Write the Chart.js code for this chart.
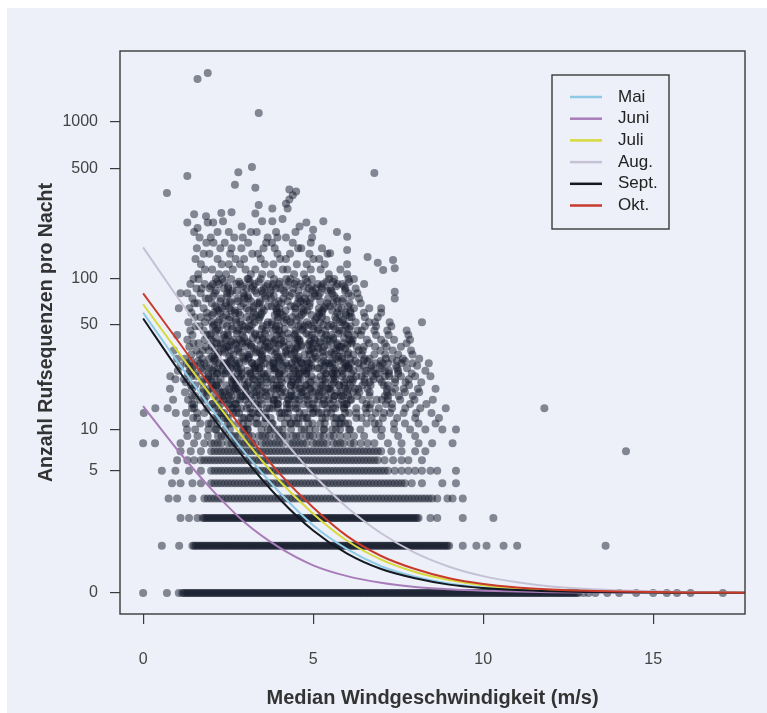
<!DOCTYPE html>
<html>
<head>
<meta charset="utf-8">
<script src="https://cdn.jsdelivr.net/npm/chart.js@4.4.0/dist/chart.umd.min.js"></script>
<style>
  html, body { margin: 0; padding: 0; background: #fff; }
</style>
</head>
<body>
<canvas id="myChart" width="767" height="713"></canvas>
<script>
// month curves (fitted calls per night), read at whole m/s steps
const curveX = [0,1,2,3,4,5,6,7,8,9,10,11,12,13,14,15,16,17,18];
const curveMai = [60,29,14,6.8,3.4,1.7,0.9,0.48,0.27,0.15,0.085,0.05,0.03,0.018,0.011,0.007,0.004,0.003,0.002];
const curveJuni = [14.5,7.2,3.6,1.8,0.95,0.5,0.28,0.16,0.09,0.055,0.033,0.02,0.012,0.008,0.005,0.003,0.002,0.001,0.001];
const curveJuli = [68,34,17,8.4,4.2,2.2,1.15,0.63,0.36,0.21,0.12,0.072,0.043,0.026,0.016,0.01,0.006,0.004,0.003];
const curveAug = [158,76,37,18,9.2,4.7,2.5,1.4,0.8,0.47,0.28,0.17,0.1,0.062,0.038,0.024,0.015,0.01,0.006];
const curveSept = [55,26,12.5,6.1,3.0,1.5,0.78,0.42,0.24,0.13,0.075,0.044,0.026,0.016,0.01,0.006,0.004,0.002,0.002];
const curveOkt = [80,40,19.5,9.6,4.8,2.5,1.3,0.72,0.42,0.24,0.14,0.085,0.052,0.032,0.02,0.013,0.008,0.005,0.003];

const monthNames = ["Mai", "Juni", "Juli", "Aug.", "Sept.", "Okt."];
const monthColors = ["#8ecae6", "#a77cb8", "#d6da3a", "#c6c2d6", "#141820", "#c83a2c"];

// nights with few calls (0..9): wind speeds per row
const rowCounts = [0,1,2,3,4,5,6,7,8,9];
const rowX0 = [0,0.7,1.05,
  1.15,1.2,1.25,1.3,1.35,1.4,1.45,1.5,1.55,1.6,1.65,1.7,1.75,1.8,1.85,1.9,1.95,
  2,2.05,2.1,2.15,2.2,2.25,2.3,2.35,2.4,2.45,2.5,2.55,2.6,2.65,2.7,2.75,2.8,2.85,2.9,2.95,
  3,3.05,3.1,3.15,3.2,3.25,3.3,3.35,3.4,3.45,3.5,3.55,3.6,3.65,3.7,3.75,3.8,3.85,3.9,3.95,
  4,4.05,4.1,4.15,4.2,4.25,4.3,4.35,4.4,4.45,4.5,4.55,4.6,4.65,4.7,4.75,4.8,4.85,4.9,4.95,
  5,5.05,5.1,5.15,5.2,5.25,5.3,5.35,5.4,5.45,5.5,5.55,5.6,5.65,5.7,5.75,5.8,5.85,5.9,5.95,
  6,6.05,6.1,6.15,6.2,6.25,6.3,6.35,6.4,6.45,6.5,6.55,6.6,6.65,6.7,6.75,6.8,6.85,6.9,6.95,
  7,7.05,7.1,7.15,7.2,7.25,7.3,7.35,7.4,7.45,7.5,7.55,7.6,7.65,7.7,7.75,7.8,7.85,7.9,7.95,
  8,8.05,8.1,8.15,8.2,8.25,8.3,8.35,8.4,8.45,8.5,8.55,8.6,8.65,8.7,8.75,8.8,8.85,8.9,8.95,
  9,9.05,9.1,9.15,9.2,9.25,9.3,9.35,9.4,9.45,9.5,9.55,9.6,9.65,9.7,9.75,9.8,9.85,9.9,9.95,
  10,10.05,10.1,10.15,10.2,10.25,10.3,10.35,10.4,10.45,10.5,10.55,10.6,10.65,10.7,10.75,10.8,10.85,10.9,10.95,
  11,11.05,11.1,11.15,11.2,11.25,11.3,11.35,11.4,11.45,11.5,11.55,11.6,11.65,11.7,11.75,11.8,11.85,11.9,11.95,
  12,12.05,12.1,12.15,12.2,12.25,12.3,12.35,12.4,12.45,12.5,12.55,12.6,12.65,12.7,12.75,12.8,
  12.95,13.1,13.3,13.65,14,14.5,15,15.4,15.7,16.1,17.05];
const rowX1 = [0.55,1.06,
  1.45,1.5,1.55,1.6,1.65,1.7,1.75,1.8,1.85,1.9,1.95,
  2,2.05,2.1,2.15,2.2,2.25,2.3,2.35,2.4,2.45,2.5,2.55,2.6,2.65,2.7,2.75,2.8,2.85,2.9,2.95,
  3,3.05,3.1,3.15,3.2,3.25,3.3,3.35,3.4,3.45,3.5,3.55,3.6,3.65,3.7,3.75,3.8,3.85,3.9,3.95,
  4,4.05,4.1,4.15,4.2,4.25,4.3,4.35,4.4,4.45,4.5,4.55,4.6,4.65,4.7,4.75,4.8,4.85,4.9,4.95,
  5,5.05,5.1,5.15,5.2,5.25,5.3,5.35,5.4,5.45,5.5,5.55,5.6,5.65,5.7,5.75,5.8,5.85,5.9,5.95,
  6,6.05,6.1,6.15,6.2,6.25,6.3,6.35,6.4,6.45,6.5,6.55,6.6,6.65,6.7,6.75,6.8,6.85,6.9,6.95,
  7,7.05,7.1,7.15,7.2,7.25,7.3,7.35,7.4,7.45,7.5,7.55,7.6,7.65,7.7,7.75,7.8,7.85,7.9,7.95,
  8,8.05,8.1,8.15,8.2,8.25,8.3,8.35,8.4,8.45,8.5,8.55,8.6,8.65,8.7,8.75,8.8,8.85,8.9,8.95,9,
  9.4,9.8,10.1,10.6,11,13.6];
const rowX2 = [1.1,1.35,1.6,1.75,1.8,1.85,1.9,1.95,
  2,2.05,2.1,2.15,2.2,2.25,2.3,2.35,2.4,2.45,2.5,2.55,2.6,2.65,2.7,2.75,2.8,2.85,2.9,2.95,
  3,3.05,3.1,3.15,3.2,3.25,3.3,3.35,3.4,3.45,3.5,3.55,3.6,3.65,3.7,3.75,3.8,3.85,3.9,3.95,
  4,4.05,4.1,4.15,4.2,4.25,4.3,4.35,4.4,4.45,4.5,4.55,4.6,4.65,4.7,4.75,4.8,4.85,4.9,4.95,
  5,5.05,5.1,5.15,5.2,5.25,5.3,5.35,5.4,5.45,5.5,5.55,5.6,5.65,5.7,5.75,5.8,5.85,5.9,5.95,
  6,6.05,6.1,6.15,6.2,6.25,6.3,6.35,6.4,6.45,6.5,6.55,6.6,6.65,6.7,6.75,6.8,6.85,6.9,6.95,
  7,7.05,7.1,7.15,7.2,7.25,7.3,7.35,7.4,7.45,7.5,7.55,7.6,7.65,7.7,7.75,7.8,7.85,7.9,7.95,
  8,8.05,8.1,8.45,8.65,9.4,10.3];
const rowX3 = [0.75,1,1.45,1.8,1.9,
  2,2.1,2.2,2.3,2.4,2.5,2.6,2.7,2.8,2.9,3,3.1,3.2,3.3,3.4,3.5,3.6,3.7,3.8,3.9,
  4,4.1,4.2,4.3,4.4,4.5,4.6,4.7,4.8,4.9,5,5.1,5.2,5.3,5.4,5.5,5.6,5.7,5.8,5.9,
  6,6.1,6.2,6.3,6.4,6.5,6.6,6.7,6.8,6.9,7,7.1,7.2,7.3,7.4,7.5,7.6,7.7,7.8,7.9,
  8,8.1,8.2,8.3,8.4,8.5,8.65,8.95,9.1,9.4];
const rowX4 = [0.85,1.1,1.45,1.7,
  2,2.1,2.2,2.3,2.4,2.5,2.6,2.7,2.8,2.9,3,3.1,3.2,3.3,3.4,3.5,3.6,3.7,3.8,3.9,
  4,4.1,4.2,4.3,4.4,4.5,4.6,4.7,4.8,4.9,5,5.1,5.2,5.3,5.4,5.5,5.6,5.7,5.8,5.9,
  6,6.1,6.2,6.3,6.4,6.5,6.6,6.7,6.8,6.9,7,7.1,7.2,7.3,7.4,7.5,7.6,7.7,
  7.9,8.2,8.8,9.2];
const rowX5 = [0.55,0.95,1.35,1.7,
  2,2.1,2.2,2.3,2.4,2.5,2.6,2.7,2.8,2.9,3,3.1,3.2,3.3,3.4,3.5,3.6,3.7,3.8,3.9,
  4,4.1,4.2,4.3,4.4,4.5,4.6,4.7,4.8,4.9,5,5.1,5.2,5.3,5.4,5.5,5.6,5.7,5.8,5.9,
  6,6.1,6.2,6.3,6.4,6.5,6.6,6.7,6.8,6.9,7,7.1,7.2,
  7.4,7.6,7.8,8,8.2,8.45,8.65,9.2];
const rowX6 = [1,1.3,1.5,1.7,1.8,1.9,
  2,2.1,2.2,2.3,2.4,2.5,2.6,2.7,2.8,2.9,3,3.1,3.2,3.3,3.4,3.5,3.6,3.7,3.8,3.9,
  4,4.1,4.2,4.3,4.4,4.5,4.6,4.7,4.8,4.9,5,5.1,5.2,5.3,5.4,5.5,5.6,5.7,5.8,5.9,
  6,6.1,6.2,6.3,6.4,6.5,6.6,6.7,6.8,6.9,
  7.1,7.35,7.6,7.8,8.2];
const rowX7 = [1.1,1.4,1.7,
  2,2.1,2.2,2.3,2.4,2.5,2.6,2.7,2.8,2.9,3,3.1,3.2,3.3,3.4,3.5,3.6,3.7,3.8,3.9,
  4,4.1,4.2,4.3,4.4,4.5,4.6,4.7,4.8,4.9,5,5.1,5.2,5.3,5.4,5.5,5.6,5.7,5.8,5.9,
  6,6.1,6.2,6.3,6.4,6.5,6.6,6.7,6.8,6.9,7,
  7.3,7.6,8,8.3];
const rowX8 = [0,0.35,1.1,1.5,1.8,
  2,2.1,2.2,2.3,2.5,2.6,2.7,2.8,2.9,3,3.1,3.2,3.3,3.5,3.6,3.7,3.8,3.9,4,4.1,
  4.3,4.4,4.5,4.6,4.7,4.8,5,5.1,5.2,5.3,5.4,5.6,5.7,5.8,5.9,6.1,6.2,6.4,6.6,6.8,
  7.2,7.6,8.1,8.5,9.1];
const rowX9 = [1.3,1.6,1.9,2.2,2.3,2.4,2.6,2.7,2.8,3,3.1,3.2,3.4,3.5,3.6,3.7,3.9,
  4,4.1,4.2,4.4,4.5,4.6,4.8,4.9,5,5.2,5.3,5.5,5.6,5.8,6,6.2,6.5,
  7,7.5,8];
const rowXs = [rowX0,rowX1,rowX2,rowX3,rowX4,rowX5,rowX6,rowX7,rowX8,rowX9];

// busier nights (10 calls and more): wind speeds per call count
const cloudCounts = [10,11,12,13,14,15,16,17,18,19,20,21,22,23,24,25,26,27,28,29,30,
  32,34,36,38,40,43,46,49,52,56,60,
  64,69,74,80,86,92,99,
  106,114,123,133,144,156,169,183,198];
const cloudX = [
  [1.29,1.53,1.92,2.13,2.55,2.97,3.06,3.48,3.75,3.99,4.35,4.74,5.07,5.31,5.67,5.79,6.06,6.39,6.84,7.02,7.38,7.85,8.3,8.8,9.2],
  [1.26,1.68,1.92,2.19,2.49,2.94,3.09,3.36,3.81,4.17,4.35,4.5,4.86,5.34,5.64,5.82,6.03,6.57,6.81,6.93,7.38,7.7,8.1,8.6],
  [1.47,1.59,2.07,2.37,2.49,2.91,3.15,3.33,3.6,4.05,4.44,4.56,4.8,5.37,5.61,5.82,6.27,6.42,6.72,7.05,7.47,8.0,8.7],
  [0.02,0.96,1.26,1.59,1.8,2.31,2.64,2.73,3.18,3.42,3.6,4.08,4.26,4.74,4.98,5.16,5.4,5.94,6.27,6.57,6.84,7.08,7.26,7.66,8.03,8.48],
  [0.36,0.72,1.44,1.5,1.89,2.22,2.64,2.76,3.15,3.39,3.72,3.96,4.23,4.53,5.01,5.1,5.58,5.91,6.27,6.54,6.66,6.93,7.32,7.71,8.15,8.9],
  [1.44,1.5,2.04,2.28,2.55,2.73,3.09,3.36,3.84,3.96,4.29,4.5,4.98,5.28,5.52,5.91,6.0,6.57,6.69,7.14,7.32,7.85,8.33],
  [0.88,1.32,1.68,1.8,2.37,2.55,2.85,3.0,3.45,3.84,3.96,4.26,4.59,4.83,5.31,5.46,5.85,6.09,6.45,6.87,7.02,7.2,7.56,7.98,8.52],
  [1.44,1.53,1.86,2.34,2.52,2.94,3.03,3.33,3.63,4.11,4.32,4.65,4.8,5.16,5.64,5.82,6.03,6.3,6.66,7.11,7.2,7.52,7.93],
  [1.23,1.77,1.89,2.34,2.55,2.76,3.03,3.33,3.6,4.05,4.35,4.65,5.07,5.28,5.52,5.82,6.18,6.36,6.66,7.17,7.32,7.7,8.12],
  [0.79,1.44,1.77,1.95,2.22,2.67,2.79,3.0,3.39,3.84,3.93,4.47,4.68,4.92,5.22,5.46,5.94,6.24,6.33,6.6,7.17,7.41,7.66,8.08,8.6],
  [1.41,1.53,2.04,2.16,2.64,2.73,3.24,3.36,3.84,4.02,4.35,4.77,4.8,5.22,5.55,5.76,6.09,6.45,6.69,7.08,7.2,7.82],
  [1.26,1.74,2.01,2.22,2.61,2.73,3.09,3.45,3.66,4.08,4.38,4.56,4.92,5.37,5.61,5.91,6.15,6.51,6.66,7.02,7.41,7.72,8.18],
  [0.95,1.2,1.77,1.89,2.28,2.67,2.97,3.27,3.45,3.87,4.05,4.41,4.62,5.07,5.28,5.58,5.97,6.18,6.51,6.78,6.96,7.41,7.81],
  [0.8,1.41,1.56,1.92,2.1,2.61,2.88,3.18,3.39,3.6,3.99,4.35,4.59,4.95,5.22,5.61,5.85,6.27,6.42,6.75,7.11,7.23,7.58,8.0,8.45],
  [1.32,1.53,1.92,2.16,2.43,2.79,3.15,3.48,3.66,3.99,4.41,4.59,4.8,5.37,5.55,5.7,6.12,6.54,6.84,6.9,7.23,7.5,7.9],
  [1.02,1.38,1.74,2.04,2.31,2.46,2.82,3.06,3.3,3.87,4.08,4.47,4.74,4.8,5.31,5.64,5.85,6.18,6.57,6.78,7.11,7.23,7.5,8.3],
  [1.44,1.71,1.95,2.19,2.61,2.88,3.27,3.42,3.84,3.9,4.41,4.59,4.86,5.13,5.58,5.91,6.03,6.36,6.69,7.02,7.47,7.76],
  [1.1,1.35,1.5,1.86,2.34,2.49,2.73,3.27,3.48,3.72,4.11,4.26,4.5,4.95,5.34,5.49,5.97,6.03,6.48,6.72,6.96,7.44,8.06],
  [1.29,1.68,1.8,2.37,2.43,2.82,3.21,3.36,3.84,4.05,4.2,4.68,4.89,5.37,5.46,5.91,6.12,6.33,6.84,7.05,7.2,7.6,7.92,8.4],
  [1.41,1.62,2.07,2.13,2.58,2.76,3.0,3.45,3.84,3.99,4.47,4.62,4.83,5.31,5.55,5.76,6.24,6.48,6.6,6.99,7.47,7.7],
  [1.0,1.23,1.74,1.95,2.1,2.58,2.97,3.09,3.51,3.66,4.02,4.44,4.53,4.98,5.1,5.67,5.85,6.09,6.51,6.66,7.14,7.32,7.64,8.12],
  [1.42,1.66,2.11,2.2,2.65,3.07,3.13,3.49,3.88,4.24,4.36,4.75,4.9,5.47,5.62,6.01,6.19,6.43,6.8,7.12,7.5,7.92],
  [0.9,1.57,1.75,1.93,2.38,2.59,2.8,3.34,3.52,3.76,4.21,4.45,4.87,4.93,5.29,5.68,5.8,6.34,6.46,6.98,7.34,7.88],
  [1.36,1.84,2.02,2.47,2.53,3.01,3.19,3.58,3.7,4.15,4.54,4.66,5.11,5.32,5.77,5.83,6.28,6.49,6.82,7.16,7.58],
  [1.48,1.63,2.17,2.29,2.71,2.92,3.1,3.64,3.85,4.06,4.48,4.87,4.99,5.2,5.71,5.92,6.13,6.64,7.1,7.75],
  [1.3,1.81,1.99,2.44,2.65,2.83,3.37,3.52,3.88,4.06,4.54,4.6,5.05,5.41,5.59,6.07,6.16,6.58,7.0,7.38,7.85],
  [1.0,1.45,1.87,1.96,2.38,2.5,2.92,3.31,3.43,3.94,4.09,4.45,4.87,4.96,5.38,5.53,6.04,6.22,6.4,6.85,7.22,7.8],
  [1.39,1.78,2.14,2.23,2.77,2.95,3.16,3.61,3.82,4.0,4.48,4.69,5.14,5.35,5.77,5.86,6.31,6.43,6.8,7.18,7.75],
  [1.54,1.66,2.05,2.47,2.59,2.98,3.13,3.52,3.91,4.0,4.57,4.75,4.96,5.44,5.59,5.98,6.1,6.52,6.85,7.3],
  [1.33,1.81,2.02,2.2,2.74,2.86,3.28,3.67,3.79,4.15,4.33,4.81,5.02,5.2,5.77,5.86,6.25,6.64,6.82,7.25,8.2],
  [1.51,1.69,1.9,2.35,2.56,3.04,3.22,3.43,3.97,4.18,4.39,4.6,5.11,5.26,5.65,6.07,6.13,6.52,6.9],
  [1.42,1.87,2.08,2.26,2.71,2.8,3.25,3.49,3.94,4.03,4.48,4.72,5.17,5.26,5.71,5.95,6.1,6.49,7.0],
  [1.05,1.36,1.78,2.17,2.32,2.53,3.04,3.25,3.49,3.91,4.0,4.48,4.66,5.17,5.32,5.74,5.83,6.2,6.65,7.0],
  [1.51,1.6,2.02,2.44,2.59,2.95,3.37,3.43,3.88,4.06,4.54,4.72,4.9,5.41,5.59,6.07,6.4],
  [1.45,1.84,1.93,2.29,2.77,2.98,3.1,3.61,3.76,4.12,4.57,4.75,4.93,5.44,5.68,5.89,6.35,7.4],
  [1.1,1.3,1.69,2.11,2.47,2.56,2.95,3.34,3.52,3.73,4.18,4.39,4.81,5.05,5.2,5.56,6.04,6.3],
  [1.57,1.72,1.96,2.38,2.5,3.04,3.19,3.55,3.91,4.03,4.42,4.87,5.08,5.26,5.5,5.95,6.25],
  [1.39,1.81,2.05,2.23,2.74,2.86,3.28,3.67,3.82,4.0,4.45,4.63,5.14,5.29,5.71,5.86,6.5],
  [1.48,1.63,2.14,2.32,2.59,3.07,3.1,3.46,3.85,4.21,4.33,4.78,4.96,5.47,5.62,6.04,6.2],
  [1.62,2.23,2.44,3.17,3.5,3.75,4.44,4.73,5.46,6.0],
  [1.82,2.03,2.64,3.01,3.3,4.11,4.24,4.93,5.22,5.8],
  [1.7,2.31,2.52,2.85,3.58,3.83,4.52,4.81,5.34,6.0],
  [1.54,2.19,2.72,2.97,3.46,4.03,4.2,5.01,5.18],
  [1.78,1.95,2.56,3.21,3.38,3.95,4.32,4.89,5.42],
  [1.58,2.27,2.6,2.89,3.54,3.87,4.56,4.65,5.26],
  [1.86,2.07,2.4,3.09,3.62,3.79,4.4,4.93],
  [1.66,1.99,2.68,2.93,3.66,3.95,4.2,4.97],
  [1.5,2.19,2.52,3.17,3.34,3.91,4.48]
];

// more nights in the crowded core of the cloud
const coreCounts = [10,11,12,13,14,15,16,17,18,19,20,22,24,26,28,31,33,35,37,39,41,44,47,50,54,58,62,66,71,77,83,89,95];
const coreX = [
  [2.15,2.41,2.94,3.08,3.67,3.87,4.1,4.66,4.89,5.33,5.56,6.09],
  [2.0,2.56,2.79,3.32,3.55,3.78,4.34,4.57,4.98,5.21,5.77,5.94],
  [2.18,2.44,2.97,3.11,3.61,3.75,4.25,4.69,4.83,5.27,5.68,5.85],
  [2.24,2.38,2.82,3.23,3.4,4.02,4.16,4.6,5.01,5.24,5.53,6.06],
  [2.09,2.62,2.88,3.05,3.64,3.81,4.31,4.48,4.92,5.42,5.65,5.91],
  [2.03,2.5,2.7,3.29,3.49,3.96,4.22,4.72,4.86,5.33,5.74,5.97],
  [2.21,2.35,2.76,3.2,3.67,3.84,4.28,4.48,5.04,5.15,5.59,6.12],
  [2.12,2.59,2.88,3.14,3.43,3.9,4.37,4.45,4.86,5.36,5.62,5.88],
  [2.27,2.41,2.85,3.26,3.52,3.75,4.19,4.69,4.98,5.18,5.71,6.0],
  [2.06,2.53,2.73,3.17,3.61,3.99,4.1,4.6,4.89,5.42,5.5,6.03],
  [2.15,2.44,2.97,3.05,3.46,3.93,4.34,4.48,5.01,5.27,5.77,5.91],
  [2.0,2.62,2.82,3.23,3.64,3.78,4.25,4.54,4.86,5.36,5.65,6.09],
  [2.18,2.38,2.91,3.14,3.55,4.02,4.16,4.57,4.8,5.39,5.59,5.88],
  [2.09,2.56,2.76,3.29,3.4,3.87,4.28,4.72,4.95,5.18,5.68,6.06],
  [2.24,2.47,2.7,3.2,3.58,3.81,4.37,4.66,4.83,5.24,5.56,5.97],
  [2.03,2.53,2.94,3.11,3.49,3.96,4.1,4.57,5.07,5.3,5.74,5.85],
  [2.21,2.41,2.85,3.32,3.43,3.93,4.19,4.45,5.04,5.27,5.53,6.03],
  [2.12,2.35,2.79,3.26,3.67,3.9,4.34,4.51,4.98,5.15,5.62,5.94],
  [2.27,2.5,2.73,3.17,3.46,3.99,4.28,4.66,4.89,5.42,5.71,6.0],
  [2.06,2.59,2.88,3.05,3.61,3.84,4.13,4.6,4.92,5.21,5.5,6.12],
  [2.15,2.38,2.97,3.23,3.52,3.75,4.31,4.54,5.04,5.33,5.59,5.91],
  [2.0,2.47,2.76,3.29,3.58,4.02,4.25,4.48,4.8,5.24,5.74,6.0],
  [2.18,2.62,2.82,3.08,3.49,3.9,4.16,4.69,5.01,5.15,5.65,6.06],
  [2.09,2.35,2.91,3.2,3.64,3.78,4.37,4.63,4.86,5.3,5.53,5.94],
  [2.24,2.53,2.73,3.14,3.4,3.96,4.22,4.51,5.07,5.39,5.68,5.88],
  [2.03,2.44,2.85,3.32,3.46,3.87,4.1,4.66,4.95,5.18,5.77,5.97],
  [2.21,2.59,2.7,3.11,3.55,3.93,4.19,4.72,4.83,5.27,5.56,6.09],
  [2.12,2.41,2.88,3.26,3.67,3.78,4.34,4.45,4.89,5.36,5.5,6.03],
  [2.27,2.56,2.79,3.17,3.43,3.99,4.25,4.63,4.8,5.21,5.71,5.85],
  [2.06,2.47,2.97,3.08,3.58,3.84,4.31,4.6,5.04,5.15,5.62,6.12],
  [2.15,2.62,2.76,3.29,3.49,3.75,4.13,4.57,4.98,5.42,5.53,5.94],
  [2.0,2.5,2.94,3.23,3.61,3.81,4.22,4.72,4.95,5.24,5.68,5.91],
  [2.18,2.38,2.82,3.14,3.4,4.02,4.28,4.51,4.83,5.39,5.59,6.06]
];

// single nights read one by one (top of the cloud and outliers)
const sparseX = [1.6,1.9,3.4,1.3,0.7,2.8,3.2,2.7,3.3,4.3,4.4,4.5,4.3,4.2,4.25,6.8,3.4,3.8,1.5,1.85,
  1.3,1.9,2.06,2.3,2.6,2.35,3.3,3.5,3.8,4.1,4.8,5.3,5.7,6.0,6.0,5.5,6.6,6.9,7.06,7.35,
  7.4,7.4,5.0,4.6,2.9,1.6,11.8,14.2];
const sparseY = [1880,2050,1140,452,352,478,515,397,380,370,340,360,320,300,280,472,295,280,257,250,
  228,228,228,262,265,232,260,232,232,240,228,232,198,185,152,145,137,126,113,131,
  116,82,205,215,215,210,14,7];

const xTickValues = [0, 5, 10, 15];
const yTickLabels = [0, 5, 10, 50, 100, 500, 1000];

// axis is log10(n + 1)
function toAxis(n) {
  return Math.log10(n + 1);
}

let points = [];
rowXs.forEach(function (xs, i) {
  xs.forEach(function (x) { points.push({ x: x, y: toAxis(rowCounts[i]) }); });
});
cloudX.forEach(function (xs, i) {
  xs.forEach(function (x) { points.push({ x: x, y: toAxis(cloudCounts[i]) }); });
});
coreX.forEach(function (xs, i) {
  xs.forEach(function (x) { points.push({ x: x, y: toAxis(coreCounts[i]) }); });
});
sparseX.forEach(function (x, i) {
  points.push({ x: x, y: toAxis(sparseY[i]) });
});

const curves = [curveMai, curveJuni, curveJuli, curveAug, curveSept, curveOkt];
let datasets = curves.map(function (values, i) {
  return {
    type: "line",
    label: monthNames[i],
    data: curveX.map(function (x, j) { return { x: x, y: toAxis(values[j]) }; }),
    borderColor: monthColors[i],
    borderWidth: 2,
    pointRadius: 0,
    cubicInterpolationMode: "monotone",
    fill: false,
    order: 7 - i,   // Okt drawn last, on top
  };
});
datasets.push({
  type: "scatter",
  label: "Nächte",
  data: points,
  backgroundColor: "rgba(22, 28, 44, 0.5)",
  borderWidth: 0,
  pointRadius: 4,
  order: 10,
});

const fontFamily = "'Liberation Sans', Arial, sans-serif";

const background = {
  id: "background",
  beforeDraw: function (chart) {
    let ctx = chart.ctx;
    ctx.save();
    ctx.fillStyle = "#ffffff";
    ctx.fillRect(0, 0, chart.width, chart.height);
    ctx.fillStyle = "#eef0f9";
    ctx.fillRect(7, 8, chart.width - 7, chart.height - 8);
    ctx.restore();
  },
};

const frameAndLegend = {
  id: "frameAndLegend",
  afterDraw: function (chart) {
    let ctx = chart.ctx;
    let area = chart.chartArea;
    ctx.save();
    ctx.strokeStyle = "#3a3a3a";
    ctx.lineWidth = 1.4;
    ctx.strokeRect(area.left, area.top, area.right - area.left, area.bottom - area.top);

    // legend box
    let left = area.right - 193;
    let top = area.top + 24;
    ctx.strokeRect(left, top, 117, 154);
    ctx.font = "17px " + fontFamily;
    ctx.textBaseline = "middle";
    ctx.textAlign = "left";
    monthNames.forEach(function (name, i) {
      let y = top + 22 + i * 21.7;
      ctx.strokeStyle = monthColors[i];
      ctx.lineWidth = 2.5;
      ctx.beginPath();
      ctx.moveTo(left + 18, y);
      ctx.lineTo(left + 50, y);
      ctx.stroke();
      ctx.fillStyle = "#222222";
      ctx.fillText(name, left + 66, y);
    });
    ctx.restore();
  },
};

let ctx = document.getElementById("myChart").getContext("2d");
let myChart = new Chart(ctx, {
  type: "scatter",
  data: { datasets: datasets },
  plugins: [background, frameAndLegend],
  options: {
    responsive: false,
    animation: false,
    events: [],
    layout: { padding: { top: 51, right: 22, left: 0, bottom: 0 } },
    plugins: { legend: { display: false }, tooltip: { enabled: false } },
    scales: {
      x: {
        type: "linear",
        min: -0.68,
        max: 17.7,
        afterBuildTicks: function (scale) {
          scale.ticks = xTickValues.map(function (v) { return { value: v }; });
        },
        afterFit: function (scale) { scale.height = 99; },
        grid: { drawOnChartArea: false, drawTicks: true, tickLength: 10, color: "#3a3a3a", lineWidth: 1.2 },
        border: { display: false },
        ticks: { color: "#444", font: { family: fontFamily, size: 16 }, padding: 26, maxRotation: 0 },
        title: {
          display: true,
          text: "Median Windgeschwindigkeit (m/s)",
          color: "#333",
          font: { family: fontFamily, size: 20, weight: "bold" },
          padding: { top: 0, bottom: 3 },
        },
      },
      y: {
        type: "linear",
        min: -0.134,
        max: 3.452,
        afterBuildTicks: function (scale) {
          scale.ticks = yTickLabels.map(function (v) { return { value: toAxis(v) }; });
        },
        afterFit: function (scale) { scale.width = 120; },
        grid: { drawOnChartArea: false, drawTicks: true, tickLength: 10, color: "#3a3a3a", lineWidth: 1.2 },
        border: { display: false },
        ticks: {
          color: "#444",
          font: { family: fontFamily, size: 16 },
          padding: 12,
          autoSkip: false,
          callback: function (value, index) { return yTickLabels[index]; },
        },
        title: {
          display: true,
          text: "Anzahl Rufsequenzen pro Nacht",
          color: "#333",
          font: { family: fontFamily, size: 19.5, weight: "bold" },
          padding: { top: 35, bottom: 0 },
        },
      },
    },
  },
});
</script>
</body>
</html>
